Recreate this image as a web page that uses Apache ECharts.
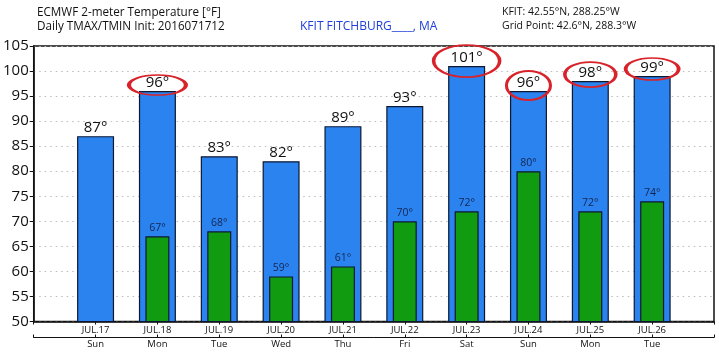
<!DOCTYPE html>
<html><head><meta charset="utf-8">
<script src="https://cdn.jsdelivr.net/npm/echarts@6/dist/echarts.min.js"></script>
<style>html,body{margin:0;padding:0;background:#fff}#c{width:719px;height:353px}</style>
</head><body><div id="c"></div>
<script>
const dates = ['', 'JUL.17','JUL.18','JUL.19','JUL.20','JUL.21','JUL.22','JUL.23','JUL.24','JUL.25','JUL.26', ''];
const days  = ['', 'Sun','Mon','Tue','Wed','Thu','Fri','Sat','Sun','Mon','Tue', ''];
const tmax  = [null, 87, 96, 83, 82, 89, 93, 101, 96, 98, 99, null];
const tmin  = [null, null, 67, 68, 59, 61, 70, 72, 80, 72, 74, null];
const circled = [2, 7, 8, 9, 10];
const circleSizes = [[57,20],[66,32],[44,29],[51,25],[53,22]];
const circleOffsets = [-6, -5, -5.5, -6.5, -7];
const yTicks = {min: 50, max: 105, step: 5};

const FONT = '"Open Sans", "DejaVu Sans", sans-serif';
const chart = echarts.init(document.getElementById('c'));
chart.setOption({
  animation: false,
  backgroundColor: '#fff',
  title: [
    {text: 'ECMWF 2-meter Temperature [°F]', left: 32, top: 2, textStyle: {fontFamily: FONT, fontSize: 11.7, fontWeight: 'normal', color: '#111'}},
    {text: 'Daily TMAX/TMIN Init: 2016071712', left: 32, top: 16, textStyle: {fontFamily: FONT, fontSize: 11.7, fontWeight: 'normal', color: '#111'}},
    {text: 'KFIT FITCHBURG____, MA', left: 295, top: 16, textStyle: {fontFamily: FONT, fontSize: 12, fontWeight: 'normal', color: '#1f3fd8'}},
    {text: 'KFIT: 42.55°N, 288.25°W', left: 497, top: 2, textStyle: {fontFamily: FONT, fontSize: 10.5, fontWeight: 'normal', color: '#111'}},
    {text: 'Grid Point: 42.6°N, 288.3°W', left: 497, top: 16, textStyle: {fontFamily: FONT, fontSize: 10.5, fontWeight: 'normal', color: '#111'}}
  ],
  grid: {left: 33, right: 5, top: 46, bottom: 31.5, show: true, borderColor: '#111', borderWidth: 1.5, backgroundColor: 'transparent'},
  xAxis: [
    {type: 'category', data: dates, boundaryGap: false, position: 'bottom',
     axisLine: {lineStyle: {color: '#111', width: 1.5}},
     axisTick: {show: true, length: 3, lineStyle: {color: '#111'}},
     axisLabel: {fontFamily: FONT, fontSize: 9.5, color: '#111', margin: 4, interval: 0},
     splitLine: {show: false}},
    {type: 'category', data: days, boundaryGap: false, position: 'bottom', offset: 16,
     axisLine: {lineStyle: {color: '#111', width: 1}},
     axisTick: {show: true, inside: true, length: 3, lineStyle: {color: '#111'}},
     axisLabel: {fontFamily: FONT, fontSize: 9.5, color: '#111', margin: 2, interval: 0},
     splitLine: {show: false}}
  ],
  yAxis: {type: 'value', min: yTicks.min, max: yTicks.max, interval: yTicks.step,
    axisLine: {show: true, lineStyle: {color: '#111', width: 1.5}},
    axisTick: {show: true, length: 4, lineStyle: {color: '#111'}},
    axisLabel: {fontFamily: FONT, fontSize: 15, color: '#111', margin: 5},
    splitLine: {show: true, lineStyle: {color: '#bbb', type: [1.5, 4], width: 1}}},
  series: [
    {type: 'bar', name: 'TMAX', xAxisIndex: 0, data: tmax, barWidth: 37,
     itemStyle: {color: '#2b83f0', borderColor: '#0d1830', borderWidth: 1.2},
     label: {show: true, position: 'top', distance: 1, formatter: p => p.value + '°', fontFamily: FONT, fontSize: 15, color: '#111'},
     markPoint: {
       symbol: 'circle', silent: true,
       label: {show: false},
       itemStyle: {color: 'rgba(0,0,0,0)', borderColor: '#d8232a', borderWidth: 2.5},
       data: circled.map((i, k) => ({coord: [i, tmax[i]], symbolSize: circleSizes[k], symbolOffset: [0, circleOffsets[k]]}))
     }},
    {type: 'bar', name: 'TMIN', xAxisIndex: 1, data: tmin, barWidth: 24,
     itemStyle: {color: '#109b10', borderColor: '#0d1830', borderWidth: 1.2},
     label: {show: true, position: 'top', distance: 3, formatter: p => p.value + '°', fontFamily: FONT, fontSize: 10.5, color: '#152550'}}
  ]
});
</script></body></html>
